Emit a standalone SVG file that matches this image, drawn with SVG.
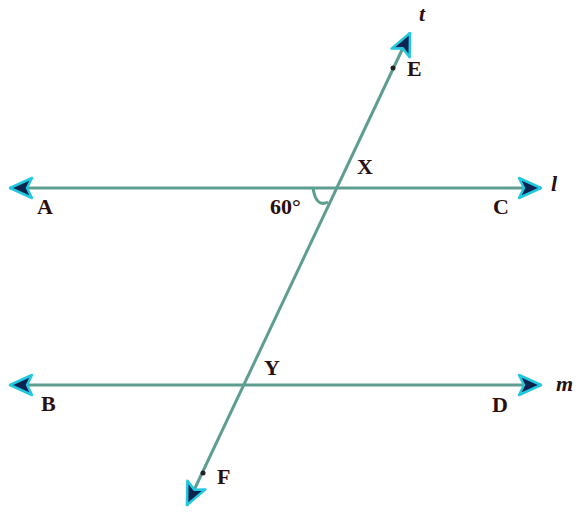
<svg xmlns="http://www.w3.org/2000/svg" width="581" height="512" viewBox="0 0 581 512">
<style>
.ln{stroke:#5e9e90;stroke-width:3;fill:none}
.lb{font-family:"Liberation Serif",serif;font-weight:bold;font-size:22px;fill:#2a0f0f}
.it{font-family:"Liberation Serif",serif;font-style:italic;font-weight:bold;font-size:22px;fill:#2a0f0f}
.pt{fill:#222}
</style>
<defs>
<marker id="ah" markerUnits="userSpaceOnUse" markerWidth="30" markerHeight="30" refX="24" refY="12" orient="auto-start-reverse" viewBox="0 0 30 24">
<polygon points="2,2 24,12 2,22 7,12" fill="#0b2450" stroke="#22c8e0" stroke-width="2.5" stroke-linejoin="round"/>
</marker>
</defs>
<rect width="581" height="512" fill="#fff"/>
<g id="connectors">
<line id="line-l" class="ln" x1="10" y1="188" x2="541" y2="188" marker-start="url(#ah)" marker-end="url(#ah)"/>
<line id="line-m" class="ln" x1="10" y1="385" x2="541" y2="385" marker-start="url(#ah)" marker-end="url(#ah)"/>
<line id="line-t" class="ln" x1="187" y1="505" x2="410" y2="33" marker-start="url(#ah)" marker-end="url(#ah)"/>
<path id="angle-arc" class="ln" stroke-width="2.5" d="M 313 188 Q 316 208 328 202"/>
</g>
<g id="point-E"><circle class="pt" cx="393" cy="68" r="2.5"/><text class="lb" x="407" y="76">E</text></g>
<g id="point-F"><circle class="pt" cx="203" cy="473" r="2.5"/><text class="lb" x="217" y="484">F</text></g>
<g id="point-X"><text class="lb" x="357" y="174">X</text></g>
<g id="point-Y"><text class="lb" x="264" y="375">Y</text></g>
<g id="point-A"><text class="lb" x="37" y="214">A</text></g>
<g id="point-C"><text class="lb" x="493" y="214">C</text></g>
<g id="point-B"><text class="lb" x="41" y="411">B</text></g>
<g id="point-D"><text class="lb" x="492" y="412">D</text></g>
<g id="label-t"><text class="it" x="419" y="21">t</text></g>
<g id="label-l"><text class="it" x="551" y="191">l</text></g>
<g id="label-m"><text class="it" x="556" y="391">m</text></g>
<g id="angle-label"><text class="lb" x="270" y="214" font-size="18">60°</text></g>
</svg>
